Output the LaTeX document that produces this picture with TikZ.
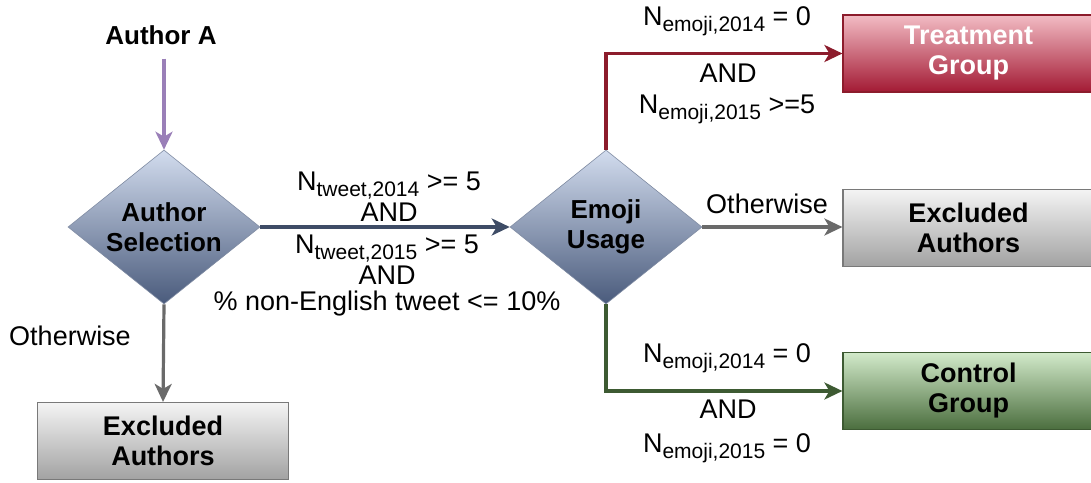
\documentclass[tikz,border=0pt]{standalone}
\usepackage{fontspec}
\setmainfont{Liberation Sans}
\usetikzlibrary{shapes.geometric,arrows.meta}

% colours
\definecolor{diatop}{HTML}{D2DCEE}
\definecolor{diabot}{HTML}{4A5B7C}
\definecolor{blueline}{HTML}{3E4C66}
\definecolor{purpleline}{HTML}{9A7FB8}
\definecolor{redline}{HTML}{8C1C2C}
\definecolor{redtop}{HTML}{F2BCC4}
\definecolor{redbot}{HTML}{A31A34}
\definecolor{greyline}{HTML}{6A6A6A}
\definecolor{greytop}{HTML}{F4F4F4}
\definecolor{greybot}{HTML}{A2A2A2}
\definecolor{greenline}{HTML}{3D5A32}
\definecolor{greentop}{HTML}{D2EACA}
\definecolor{greenbot}{HTML}{4B6E3E}

% N with a lowered, smaller index
\newcommand{\Nidx}[1]{N\raisebox{-0.24em}{\fontsize{21}{21}\selectfont #1}}
% centred lines whose baseline is the first line's, with 31pt line pitch
\newcommand{\cstack}[1]{\vtop{\baselineskip=31pt\lineskiplimit=-100pt\lineskip=0pt
  \halign{\hfil##\hfil\cr#1\crcr}}}

\tikzset{
  lbl/.style={font=\fontsize{27}{30}\selectfont, anchor=base, inner sep=0pt},
  dia/.style={diamond, aspect=1.25, inner sep=0pt, minimum width=192pt,
    minimum height=154pt, shading=axis, top color=diatop, bottom color=diabot,
    draw=diabot!70, line width=0.6pt, align=center,
    font=\bfseries\fontsize{26}{30}\selectfont},
  boxbase/.style={rectangle, minimum width=251pt, minimum height=77pt,
    inner sep=0pt, align=center, shading=axis, line width=1.2pt,
    font=\bfseries\fontsize{27}{30}\selectfont},
  greybox/.style={boxbase, top color=greytop, bottom color=greybot, draw=greyline!90},
  redbox/.style={boxbase, top color=redtop, bottom color=redbot, draw=redline, text=white},
  greenbox/.style={boxbase, top color=greentop, bottom color=greenbot, draw=greenline},
  flow/.style={line width=3.2pt, -{Stealth[length=18pt, width=17pt, inset=5pt]}},
}

\begin{document}
\begin{tikzpicture}[x=1pt, y=-1pt]
\clip (0,0) rectangle (1091,482);
\fill[white] (0,0) rectangle (1091,482);

% nodes
\node[font=\bfseries\fontsize{26}{30}\selectfont, inner sep=2pt] (src) at (161,35) {Author A};
\node[dia] (sel) at (164,227) {Author\\Selection};
\node[dia] (emo) at (606,227) {Emoji\\Usage};
\node[greybox] (exL) at (163,441) {Excluded\\Authors};
\node[redbox] (treat) at (968.5,53.5) {Treatment\\Group};
\node[greybox] (exR) at (968.5,228) {Excluded\\Authors};
\node[greenbox] (ctrl) at (968.5,391) {Control\\Group};

% connectors
\draw[flow, purpleline, shorten <=12pt] (src.south -| sel.north) -- (sel.north);
\draw[flow, blueline] (sel.east) -- (emo.west);
\draw[flow, greyline] (sel.south) -- (exL.north);
\draw[flow, redline] (emo.north) |- (treat.west);
\draw[flow, greyline] (emo.east) -- (emo.east -| exR.west);
\draw[flow, greenline] (emo.south) |- (ctrl.west);

% conditions between the two decisions
\node[lbl] (cup) at (389,190) {\cstack{\Nidx{tweet,2014} >= 5\cr AND}};
\node[lbl] (clow) at (387,253) {\cstack{\Nidx{tweet,2015} >= 5\cr
  AND\cr
  \noalign{\vskip -5pt}\% non-English tweet <= 10\%}};

% conditions for the treatment group
\node[lbl] (t1) at (727,25) {\Nidx{emoji,2014} = 0};
\node[lbl] (t2) at (728,82) {AND};
\node[lbl] (t3) at (727,113) {\Nidx{emoji,2015} >=5};

% conditions for the control group
\node[lbl] (k1) at (727,362) {\Nidx{emoji,2014} = 0};
\node[lbl] (k2) at (728,418) {AND};
\node[lbl] (k3) at (727,452) {\Nidx{emoji,2015} = 0};

% fall-through labels
\node[lbl] (o1) at (767,213) {Otherwise};
\node[lbl] (o2) at (70,345) {Otherwise};
\end{tikzpicture}
\end{document}
